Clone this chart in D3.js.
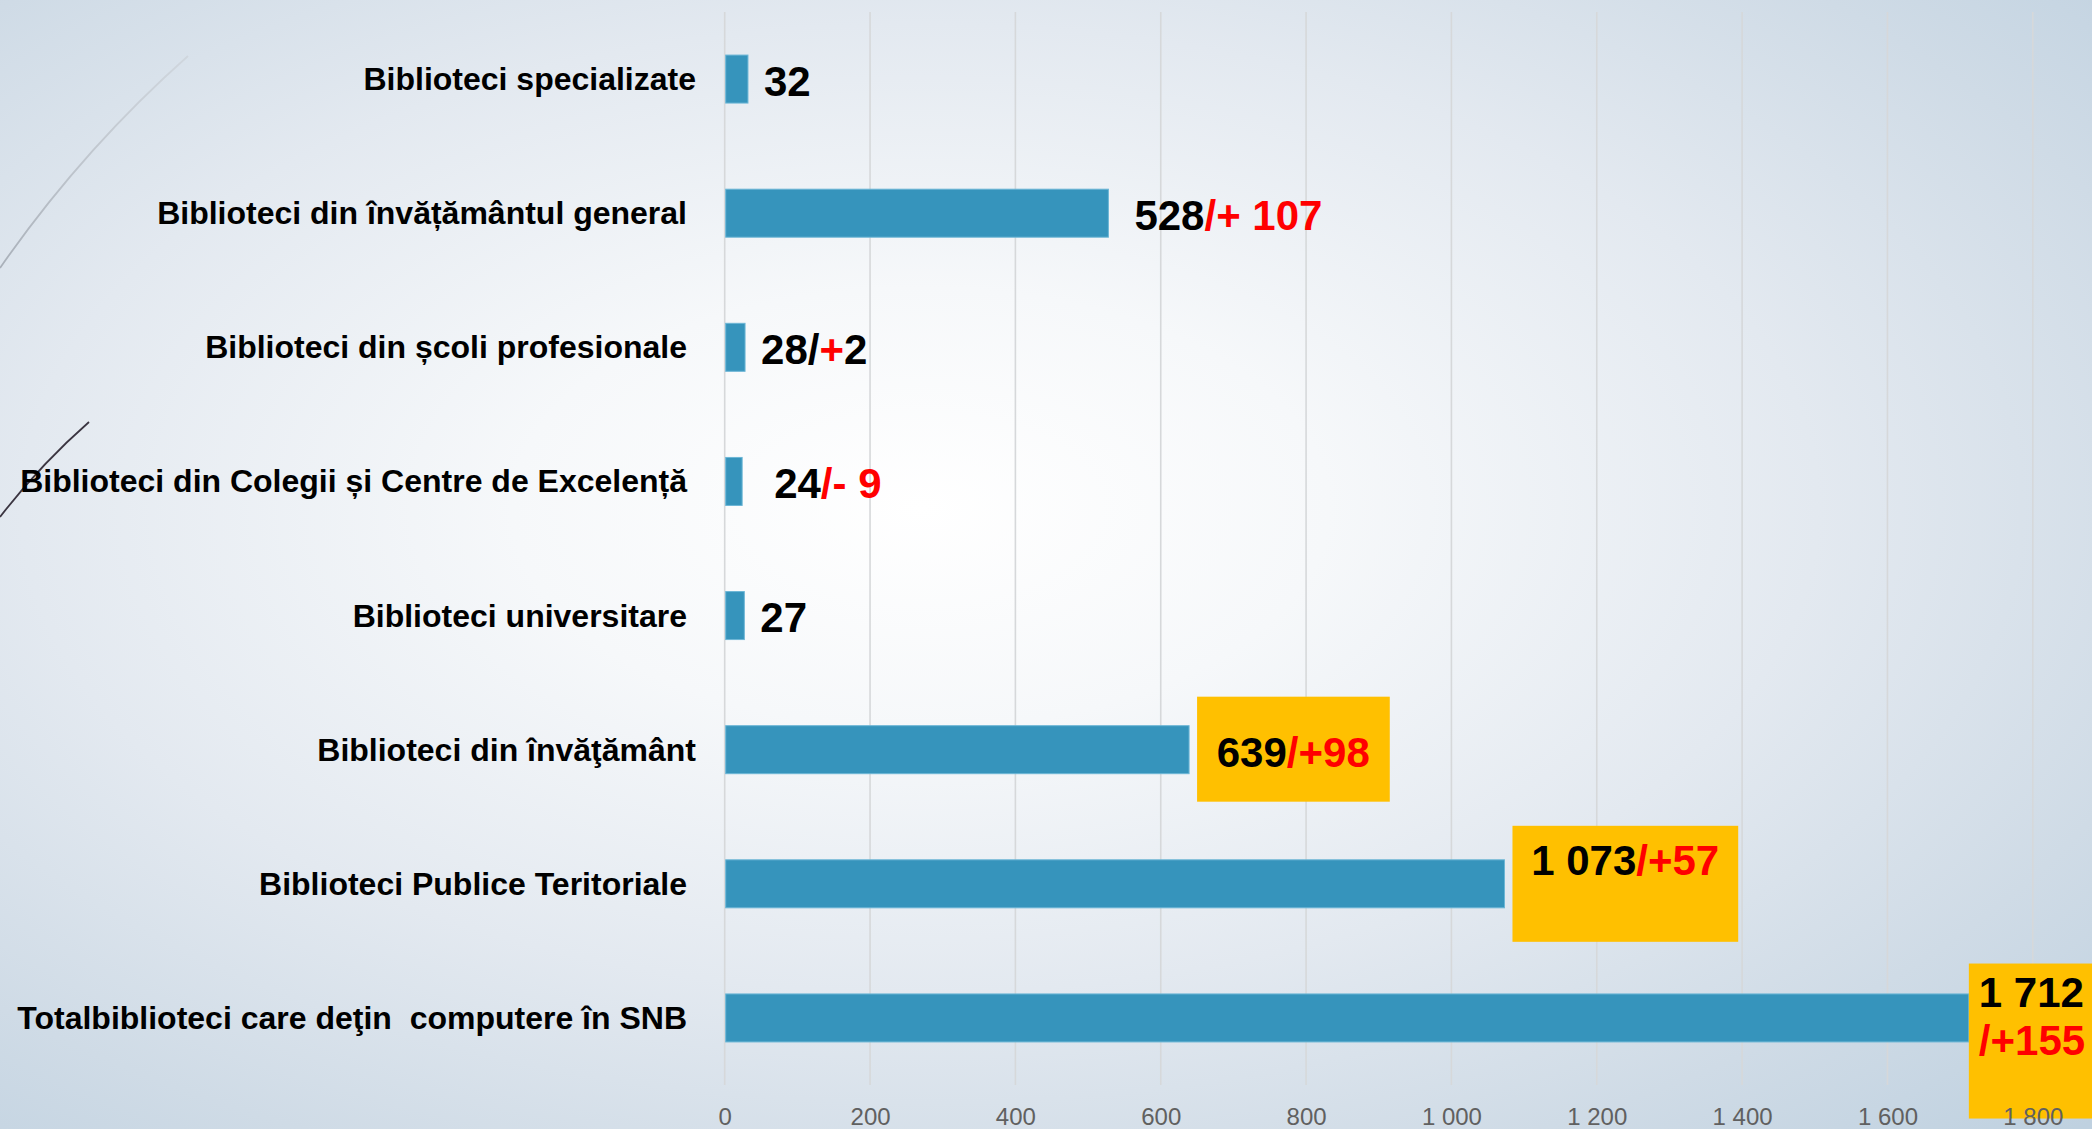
<!DOCTYPE html>
<html>
<head>
<meta charset="utf-8">
<script src="https://cdn.jsdelivr.net/npm/d3@7"></script>
<style>
  html, body { margin: 0; padding: 0; overflow: hidden; background: #fff; }
  text { white-space: pre; }
</style>
</head>
<body>
<svg id="chart" width="2092" height="1129"></svg>
<script>
// ---------------- DATA ----------------
const categories = [
  "Biblioteci specializate",
  "Biblioteci din învățământul general",
  "Biblioteci din școli profesionale",
  "Biblioteci din Colegii și Centre de Excelență",
  "Biblioteci universitare",
  "Biblioteci din învăţământ",
  "Biblioteci Publice Teritoriale",
  "Totalbiblioteci care deţin  computere în SNB"
];
const values = [32, 528, 28, 24, 27, 639, 1073, 1712];
// value-label text segments: [text, highlighted(change)]
const labelSegments = [
  [["32", false]],
  [["528", false], ["/+ 107", true]],
  [["28/", false], ["+", true], ["2", false]],
  [["24", false], ["/- 9", true]],
  [["27", false]],
  [["639", false], ["/+98", true]],
  [["1 073", false], ["/+57", true]],
  [["1 712", false], ["\n", false], ["/+155", true]]
];
const tickValues = [0, 200, 400, 600, 800, 1000, 1200, 1400, 1600, 1800];

// ---------------- LAYOUT / STYLE ----------------
const W = 2092, H = 1129;
const plot = { left: 724.7, right: 2032.8, top: 12, bottom: 1085 };
const barH = 48;
const barColor = "#3694bc";
const labelFont = "'Liberation Sans', Arial, sans-serif";
const labelAnchorX = 687;
const labelShift = { 0: 9, 5: 9 };
const valueGap = { default: 16, 1: 26, 3: 32 };
const callouts = {
  5: { dx: 8, padL: 19.7, padR: 20, top: -53, bottom: 52, baselines: [17.7] },
  6: { dx: 8, padL: 18.7, padR: 19, top: -58, bottom: 58, baselines: [-8.5] },
  7: { dx: 0, padL: 10, padR: 40, top: -54.4, bottom: 100.6, baselines: [-11, 37.5] }
};

const svg = d3.select("#chart");

// background
const defs = svg.append("defs");
const rg = defs.append("radialGradient").attr("id", "bg")
  .attr("cx", "0.44").attr("cy", "0.45").attr("r", "0.78")
  .attr("fx", "0.44").attr("fy", "0.45");
[[0, "#ffffff"], [0.25, "#f6f8fa"], [0.55, "#e3e9f0"], [0.8, "#cfdbe6"], [1, "#bfd1e0"]]
  .forEach(([o, c]) => rg.append("stop").attr("offset", o).attr("stop-color", c));
svg.append("rect").attr("width", W).attr("height", H).attr("fill", "url(#bg)");

// decorative slide curves
const lg = defs.append("linearGradient").attr("id", "arcfade")
  .attr("x1", "1").attr("y1", "0").attr("x2", "0").attr("y2", "1");
lg.append("stop").attr("offset", 0).attr("stop-color", "#c9ced4").attr("stop-opacity", 0.6);
lg.append("stop").attr("offset", 1).attr("stop-color", "#a9b0b9").attr("stop-opacity", 1);
svg.append("path").attr("d", "M188,56 Q82,150 0,268")
  .attr("fill", "none").attr("stroke", "url(#arcfade)").attr("stroke-width", 1.8);
svg.append("path").attr("d", "M89,422 Q40,465 0,517")
  .attr("fill", "none").attr("stroke", "#3b3541").attr("stroke-width", 1.8);

// scales
const x = d3.scaleLinear().domain([0, 1800]).range([plot.left, plot.right]);
const y = d3.scaleBand().domain(categories).range([plot.top, plot.bottom]).padding(0);
const cy = d => y(d) + y.bandwidth() / 2;

// gridlines
svg.append("g").selectAll("line").data(tickValues).join("line")
  .attr("x1", d => x(d)).attr("x2", d => x(d))
  .attr("y1", plot.top).attr("y2", plot.bottom)
  .attr("stroke", "#d6d8da").attr("stroke-width", 1.6);

// bars
svg.append("g").selectAll("rect").data(categories).join("rect")
  .attr("x", x(0) + 1)
  .attr("y", d => cy(d) - barH / 2)
  .attr("width", (d, i) => x(values[i]) - x(0) - 1)
  .attr("height", barH)
  .attr("fill", barColor)
  .attr("stroke", "#6cb6d6").attr("stroke-width", 1);

// category labels
svg.append("g").selectAll("text").data(categories).join("text")
  .attr("x", (d, i) => labelAnchorX + (labelShift[i] || 0))
  .attr("y", d => cy(d) + 11)
  .attr("text-anchor", "end")
  .attr("font-family", labelFont).attr("font-weight", "bold")
  .attr("font-size", 32).attr("fill", "#000")
  .text(d => d);

// value labels
const vg = svg.append("g");
categories.forEach((cat, i) => {
  const c = cy(cat);
  const end = x(values[i]);
  const co = callouts[i];
  if (!co) {
    const t = vg.append("text")
      .attr("x", end + (valueGap[i] !== undefined ? valueGap[i] : valueGap.default))
      .attr("y", c + 16.5)
      .attr("font-family", labelFont).attr("font-weight", "bold")
      .attr("font-size", 42);
    labelSegments[i].forEach(([s, hl]) => t.append("tspan").attr("fill", hl ? "#ff0000" : "#000").text(s));
  } else {
    const bx = end + co.dx;
    const box = vg.append("rect").attr("x", bx).attr("y", c + co.top)
      .attr("height", co.bottom - co.top).attr("fill", "#ffc000");
    const lines = [[]];
    labelSegments[i].forEach(seg => { if (seg[0] === "\n") lines.push([]); else lines[lines.length - 1].push(seg); });
    let maxW = 0;
    lines.forEach((segs, li) => {
      const t = vg.append("text")
        .attr("x", bx + co.padL)
        .attr("y", c + co.baselines[li])
        .attr("font-family", labelFont).attr("font-weight", "bold")
        .attr("font-size", 42);
      segs.forEach(([s, hl]) => t.append("tspan").attr("fill", hl ? "#ff0000" : "#000").text(s));
      maxW = Math.max(maxW, t.node().getComputedTextLength());
    });
    box.attr("width", maxW + co.padL + co.padR);
  }
});

// axis (tick labels drawn on top)
const locale = d3.formatLocale({ decimal: ",", thousands: " ", grouping: [3], currency: ["", ""] });
const fmt = locale.format(",d");
const axis = d3.axisBottom(x).tickValues(tickValues).tickSize(0).tickFormat(fmt);
const ag = svg.append("g").attr("transform", `translate(0,${plot.bottom})`).call(axis);
ag.select(".domain").remove();
ag.selectAll("text")
  .attr("y", 40).attr("dy", 0)
  .attr("font-family", "'Liberation Sans Narrow', 'Liberation Sans', sans-serif")
  .attr("font-size", 24)
  .attr("fill", "#606060");
</script>
</body>
</html>
